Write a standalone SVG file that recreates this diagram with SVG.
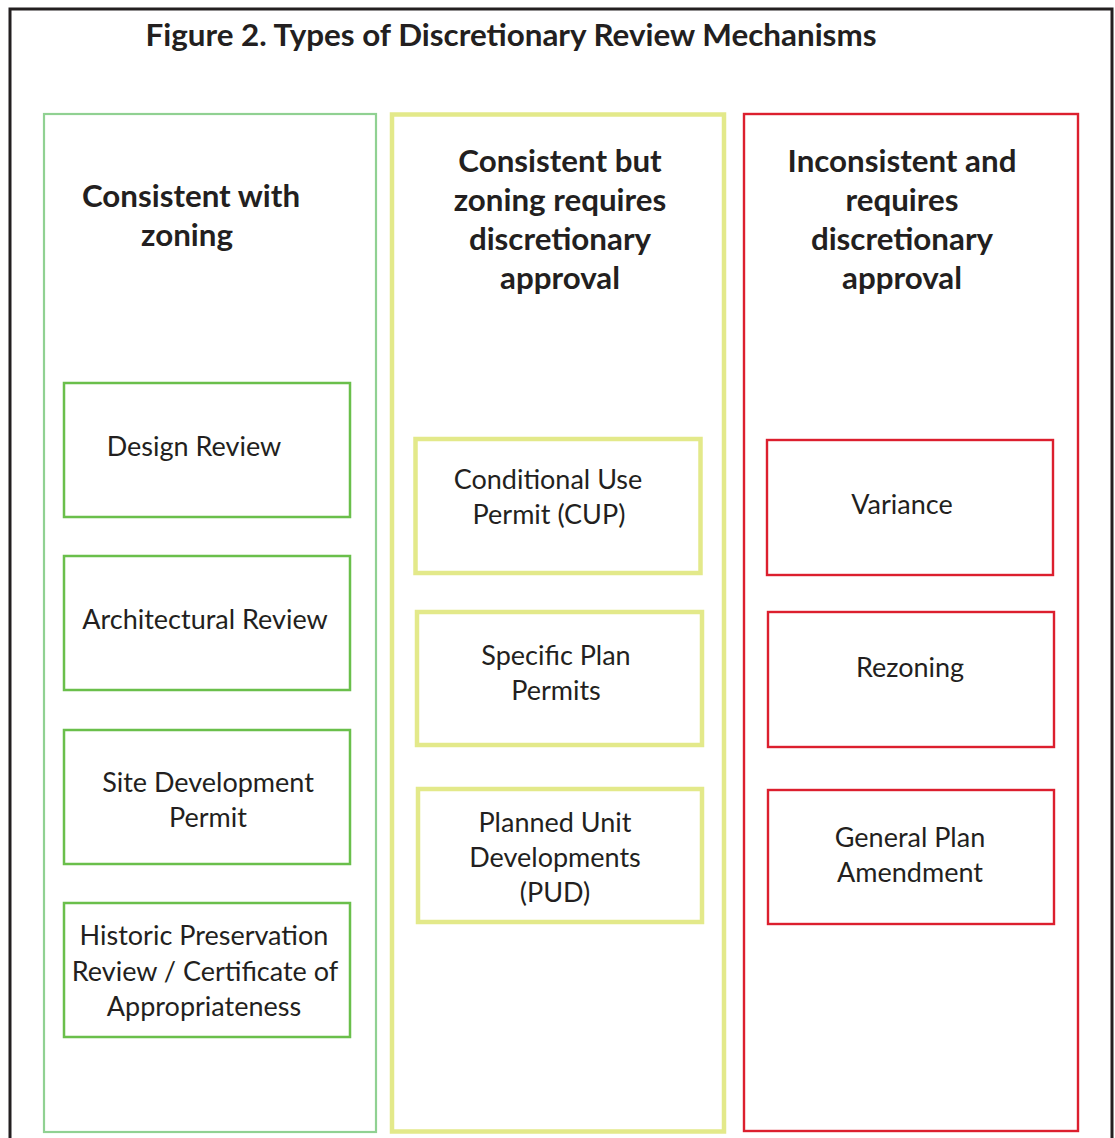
<svg xmlns="http://www.w3.org/2000/svg" width="1115" height="1138" viewBox="0 0 1115 1138">
<style>
text{font-family:Lato,"Open Sans","Liberation Sans",sans-serif;fill:#231f20;text-anchor:middle}
.title{font-size:31.4px;font-weight:bold}
.hdr{font-size:31.3px;font-weight:bold}
.lbl{font-size:27px}
.col-g{fill:none;stroke:#90d192;stroke-width:2.2}
.col-y{fill:none;stroke:#e3e98a;stroke-width:4.5}
.col-r{fill:none;stroke:#dc1f2e;stroke-width:2.4}
.box-g{fill:#fff;stroke:#6abf4b;stroke-width:2.5}
.box-y{fill:#fff;stroke:#e3e98a;stroke-width:4.5}
.box-r{fill:#fff;stroke:#dc1f2e;stroke-width:2.4}
</style>
<rect width="1115" height="1138" fill="#fff"/>
<rect x="10" y="9" width="1102" height="1140" fill="none" stroke="#231f20" stroke-width="3"/>
<text class="title" x="511" y="46">Figure 2. Types of Discretionary Review Mechanisms</text>

<g id="col-consistent">
<rect class="col-g" x="44" y="114" width="332" height="1018"/>
<text class="hdr" x="191" y="207">Consistent with</text>
<text class="hdr" x="187" y="246">zoning</text>
</g>
<g id="col-consistent-but">
<rect class="col-y" x="392" y="114.5" width="332" height="1017"/>
<text class="hdr" x="560" y="172">Consistent but</text>
<text class="hdr" x="560" y="211">zoning requires</text>
<text class="hdr" x="560" y="250">discretionary</text>
<text class="hdr" x="560" y="289">approval</text>
</g>
<g id="col-inconsistent">
<rect class="col-r" x="744" y="114" width="334" height="1017"/>
<text class="hdr" x="902" y="172">Inconsistent and</text>
<text class="hdr" x="902" y="211">requires</text>
<text class="hdr" x="902" y="250">discretionary</text>
<text class="hdr" x="902" y="289">approval</text>
</g>

<g id="design-review">
<rect class="box-g" x="64" y="383" width="286" height="134"/>
<text class="lbl" x="194" y="456">Design Review</text>
</g>
<g id="architectural-review">
<rect class="box-g" x="64" y="556" width="286" height="134"/>
<text class="lbl" x="205" y="629">Architectural Review</text>
</g>
<g id="site-development-permit">
<rect class="box-g" x="64" y="730" width="286" height="134"/>
<text class="lbl" x="208" y="792">Site Development</text>
<text class="lbl" x="208" y="827">Permit</text>
</g>
<g id="historic-preservation">
<rect class="box-g" x="64" y="903" width="286" height="134"/>
<text class="lbl" x="204" y="945">Historic Preservation</text>
<text class="lbl" x="205" y="981">Review / Certificate of</text>
<text class="lbl" x="204" y="1016">Appropriateness</text>
</g>

<g id="cup">
<rect class="box-y" x="415.5" y="439" width="285" height="134"/>
<text class="lbl" x="548" y="489">Conditional Use</text>
<text class="lbl" x="549" y="524">Permit (CUP)</text>
</g>
<g id="specific-plan">
<rect class="box-y" x="417" y="612" width="285" height="133"/>
<text class="lbl" x="556" y="665">Specific Plan</text>
<text class="lbl" x="556" y="700">Permits</text>
</g>
<g id="pud">
<rect class="box-y" x="418" y="789" width="284" height="133"/>
<text class="lbl" x="555" y="832">Planned Unit</text>
<text class="lbl" x="555" y="867">Developments</text>
<text class="lbl" x="555" y="902">(PUD)</text>
</g>

<g id="variance">
<rect class="box-r" x="767" y="440" width="286" height="135"/>
<text class="lbl" x="902" y="514">Variance</text>
</g>
<g id="rezoning">
<rect class="box-r" x="768" y="612" width="286" height="135"/>
<text class="lbl" x="910" y="677">Rezoning</text>
</g>
<g id="general-plan-amendment">
<rect class="box-r" x="768" y="790" width="286" height="134"/>
<text class="lbl" x="910" y="847">General Plan</text>
<text class="lbl" x="910" y="882">Amendment</text>
</g>
<g id="connectors"></g>
</svg>
